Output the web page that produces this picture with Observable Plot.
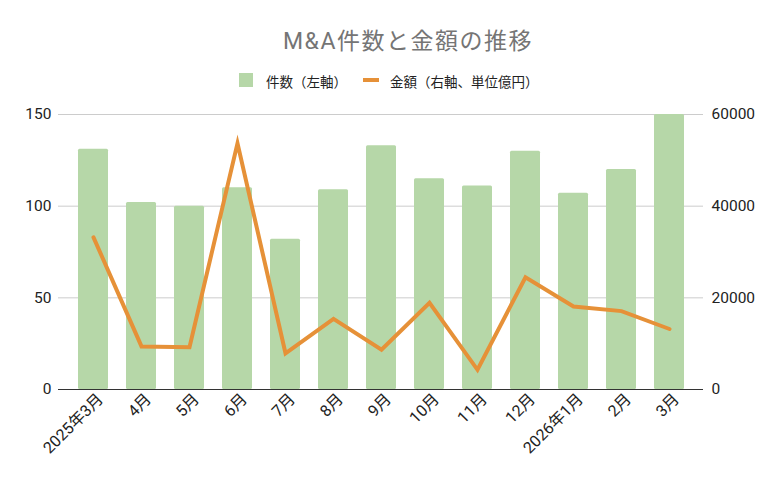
<!DOCTYPE html>
<html><head><meta charset="utf-8">
<script src="https://cdn.jsdelivr.net/npm/d3@7"></script>
<script src="https://cdn.jsdelivr.net/npm/@observablehq/plot@0.6"></script>
<style>
html,body{margin:0;padding:0;background:#fff;}
#wrap{position:relative;width:780px;height:482px;font-family:Roboto,"Noto Sans CJK JP",sans-serif;}
#title{position:absolute;top:22px;left:283px;white-space:nowrap;font-size:23px;letter-spacing:1.5px;color:#757575;}
#legend{position:absolute;top:0;left:0;width:780px;height:100px;font-size:13.5px;color:#222;}
#legend span{position:absolute;white-space:nowrap;}
#chart{position:absolute;top:100px;left:0;}
</style></head>
<body><div id="wrap">
<div id="title">M&amp;A件数と金額の推移</div>
<div id="legend">
<span style="left:239px;top:73px;width:14px;height:14px;background:#b6d7a8"></span>
<span style="left:266px;top:71px;">件数（左軸）</span>
<span style="left:363px;top:78px;width:16px;height:4px;background:#e69138"></span>
<span style="left:390px;top:71px;">金額（右軸、単位億円）</span>
</div>
<div id="chart"></div>
</div>
<script>
const months = ["2025年3月","4月","5月","6月","7月","8月","9月","10月","11月","12月","2026年1月","2月","3月"];
const counts = [131,102,100,110,82,109,133,115,111,130,107,120,150];
const amounts = [33200,9400,9200,53700,7900,15400,8700,18900,4300,24500,18100,17100,13200];
const leftTicks = [0,50,100,150];
const rightTicks = [0,20000,40000,60000];
const ratio = 60000/150;

const data = months.map((m,i)=>({m, c: counts[i], a: amounts[i], ay: amounts[i]/ratio}));

const chart = Plot.plot({
  width: 780,
  height: 382,
  marginLeft: 58,
  marginRight: 77,
  marginTop: 14,
  marginBottom: 93,
  style: {fontFamily: 'Roboto,"Noto Sans CJK JP",sans-serif', fontSize: "15px", color: "#222", background: "transparent"},
  x: {type: "band", domain: months, padding: 0.38},
  y: {domain: [0,150]},
  marks: [
    Plot.ruleY(leftTicks.filter(d=>d>0), {stroke: "#cccccc", strokeWidth: 1}),
    Plot.barY(data, {x: "m", y: "c", fill: "#b6d7a8", rx: 1.5}),
    Plot.ruleY([0], {stroke: "#333", strokeWidth: 1}),
    Plot.line(data, {x: "m", y: "ay", stroke: "#e69138", strokeWidth: 4, strokeLinejoin: "miter", strokeMiterlimit: 10}),
    Plot.axisY({ticks: leftTicks, tickSize: 0, tickPadding: 7, anchor: "left", label: null, fontSize: 15.5}),
    Plot.axisY({ticks: rightTicks.map(d=>d/ratio), tickFormat: d => String(d*ratio), tickSize: 0, tickPadding: 8, anchor: "right", label: null, fontSize: 15.5}),
    Plot.axisX({tickSize: 0, tickPadding: 7, tickRotate: -45, label: null, fontSize: 16, dx: 7})
  ]
});
document.getElementById("chart").appendChild(chart);
</script>
</body></html>
